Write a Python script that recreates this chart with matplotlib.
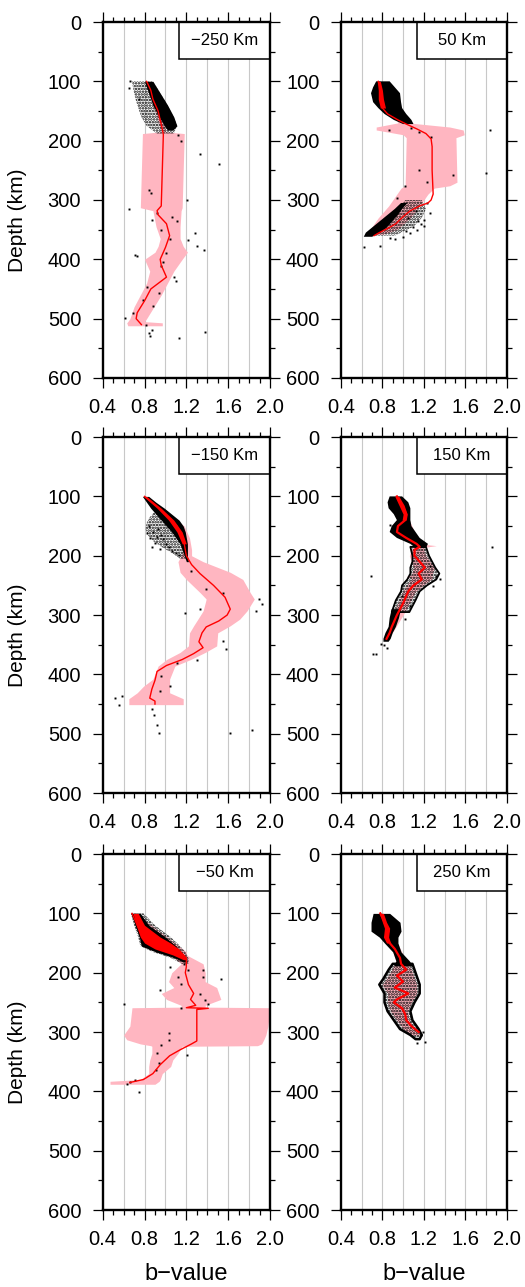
import numpy as np
import matplotlib
matplotlib.use("Agg")
import matplotlib.pyplot as plt
from matplotlib.patches import Rectangle

plt.rcParams['font.family'] = ['Liberation Sans', 'DejaVu Sans']
plt.rcParams['hatch.linewidth'] = 1.2

nan = np.nan

# ---- panel 1 : -250 Km ----
p1_depth = [100, 115, 130, 150, 165, 180, 190, 250, 310, 318, 325, 340, 360, 380, 400, 410, 430, 450, 470, 490, 500, 510]
p1_b = [0.82, 0.86, 0.88, 0.93, 0.95, 0.97, 0.98, 0.97, 0.96, 0.92, 0.93, 1.01, 1.04, 1.00, 0.95, 0.96, 1.01, 0.86, 0.80, 0.73, 0.72, 0.77]
p1_band_depth = [100, 150, 185, 188, 250, 313, 318, 345, 365, 378, 388, 400, 420, 440, 460, 480, 500, 505, 507, 512]
p1_band_lo = [0.80, 0.90, 0.96, 0.78, 0.77, 0.76, 0.88, 0.91, 0.95, 0.93, 0.90, 0.80, 0.85, 0.82, 0.76, 0.70, 0.66, 0.64, 0.63, 0.64]
p1_band_hi = [0.86, 0.97, 1.00, 1.18, 1.17, 1.16, 1.15, 1.14, 1.14, 1.17, 1.21, 1.16, 1.08, 1.02, 0.96, 0.89, 0.82, 0.80, 0.97, 0.97]
p1_env_depth = [100, 120, 140, 160, 175, 182]
p1_env_lo = [0.80, 0.84, 0.88, 0.94, 0.99, 1.02]
p1_env_hi = [0.88, 0.95, 1.02, 1.08, 1.11, 1.07]
p1_sparse_depth = [100, 120, 140, 160, 175, 188]
p1_sparse_lo = [0.68, 0.70, 0.73, 0.77, 0.82, 0.92]
p1_sparse_hi = [0.88, 0.95, 1.02, 1.08, 1.11, 1.08]
p1_pts_b = [1.33, 1.51, 1.21, 0.65, 0.84, 0.86, 1.28, 1.22, 1.30, 1.37, 0.73, 0.71, 1.11, 0.87, 1.08, 1.10, 0.94,
            0.88, 0.61, 0.85, 1.13, 1.38, 0.69, 0.81, 0.87, 0.84, 0.96, 1.01, 0.96, 1.06, 0.92, 0.79, 0.82,
            0.66, 0.65, 0.75, 1.12, 1.15, 0.98, 1.04]
p1_pts_depth = [222, 240, 300, 315, 283, 288, 356, 367, 378, 384, 395, 392, 336, 333, 429, 437, 456,
                479, 499, 530, 532, 523, 491, 510, 519, 524, 412, 390, 350, 328, 322, 468, 446,
                100, 112, 130, 190, 200, 405, 365]

# ---- panel 2 : 50 Km ----
p2_depth = [100, 110, 120, 130, 145, 155, 165, 172, 180, 188, 197, 210, 250, 290, 300, 305, 310, 318, 325, 333, 340, 347, 355, 360]
p2_b = [0.76, 0.78, 0.79, 0.78, 0.80, 0.85, 0.95, 1.03, 1.13, 1.22, 1.27, 1.28, 1.28, 1.29, 1.27, 1.24, 1.16, 1.07, 1.02, 0.97, 0.93, 0.86, 0.77, 0.72]
p2_band_depth = [100, 170, 177, 182, 190, 195, 270, 276, 280, 290, 310, 330, 350, 358]
p2_band_lo = [0.75, 0.95, 0.74, 0.74, 1.00, 1.03, 1.02, 1.02, 0.98, 0.94, 0.86, 0.76, 0.68, 0.66]
p2_band_hi = [0.78, 1.05, 1.45, 1.58, 1.59, 1.51, 1.52, 1.45, 1.30, 1.24, 1.16, 1.07, 0.94, 0.80]
p2_env_depth = [100, 110, 120, 135, 145, 155, 165, 172, nan, 305, 315, 325, 335, 345, 355, 362]
p2_env_lo = [0.74, 0.71, 0.69, 0.71, 0.76, 0.82, 0.91, 1.00, nan, 0.98, 0.92, 0.85, 0.78, 0.71, 0.64, 0.62]
p2_env_hi = [0.87, 0.92, 0.97, 0.98, 0.99, 1.03, 1.08, 1.10, nan, 1.04, 0.99, 0.95, 0.90, 0.85, 0.78, 0.70]
p2_sparse_depth = [300, 315, 330, 345, 360]
p2_sparse_lo = [1.02, 0.96, 0.88, 0.80, 0.70]
p2_sparse_hi = [1.18, 1.22, 1.18, 1.10, 0.92]
p2_core_depth = [100, 115, 130, 145]
p2_core_lo = [0.75, 0.76, 0.76, 0.78]
p2_core_hi = [0.78, 0.80, 0.81, 0.83]
p2_pts_b = [1.84, 1.80, 1.15, 1.48, 0.62, 0.78, 0.87, 1.23, 1.26, 1.20, 1.13, 1.07, 1.23, 1.02, 0.94, 1.27, 1.15, 1.08, 0.86,
            1.10, 1.17, 1.00, 0.92, 1.05, 1.12, 1.20, 1.14, 1.03]
p2_pts_depth = [182, 254, 250, 258, 380, 378, 364, 305, 322, 333, 350, 356, 269, 277, 297, 193, 185, 179, 182,
                345, 340, 362, 366, 330, 318, 343, 335, 352]

# ---- panel 3 : -150 Km ----
p3_depth = [100, 110, 120, 130, 150, 170, 190, 200, 215, 230, 250, 270, 290, 300, 310, 320, 330, 345, 355, 365, 375, 385, 395, 410, 425, 440, 445, 450]
p3_b = [0.80, 0.87, 0.94, 1.00, 1.11, 1.17, 1.19, 1.20, 1.25, 1.33, 1.46, 1.57, 1.62, 1.59, 1.51, 1.39, 1.35, 1.32, 1.36, 1.27, 1.16, 1.01, 0.92, 0.90, 0.87, 0.85, 0.90, 0.90]
p3_band_depth = [100, 150, 170, 190, 200, 210, 228, 240, 262, 273, 293, 307, 318, 330, 352, 363, 375, 386, 408, 420, 431, 441, 451]
p3_band_lo = [0.79, 1.05, 1.12, 1.17, 1.15, 1.12, 1.14, 1.20, 1.33, 1.39, 1.36, 1.31, 1.27, 1.23, 1.22, 1.14, 1.01, 0.93, 0.88, 0.79, 0.73, 0.65, 0.65]
p3_band_hi = [0.82, 1.18, 1.23, 1.25, 1.25, 1.36, 1.62, 1.74, 1.81, 1.85, 1.78, 1.71, 1.62, 1.50, 1.49, 1.38, 1.24, 1.09, 1.04, 1.04, 1.04, 1.17, 1.17]
p3_env_depth = [100, 110, 120, 130, 140, 150, 160, 170, 180, 190, 200, 210]
p3_env_lo = [0.78, 0.82, 0.86, 0.91, 0.96, 1.01, 1.06, 1.10, 1.14, 1.16, 1.18, 1.20]
p3_env_hi = [0.84, 0.91, 0.99, 1.06, 1.13, 1.17, 1.19, 1.20, 1.21, 1.21, 1.21, 1.22]
p3_sparse_depth = [125, 135, 145, 155, 165, 175, 185, 195, 205]
p3_sparse_lo = [0.90, 0.85, 0.82, 0.81, 0.83, 0.88, 0.96, 1.06, 1.14]
p3_sparse_hi = [1.02, 1.08, 1.13, 1.17, 1.19, 1.20, 1.21, 1.21, 1.21]
p3_core_depth = [100, 120, 140, 160, 180]
p3_core_lo = [0.79, 0.92, 1.03, 1.11, 1.16]
p3_core_hi = [0.82, 0.96, 1.08, 1.16, 1.20]
p3_pts_b = [0.82, 0.87, 0.95, 1.06, 0.92, 1.01, 0.52, 0.58, 0.56, 0.87, 0.89, 0.92, 0.94, 1.62, 1.83, 1.92, 1.89, 1.87,
            1.19, 1.33, 1.58, 1.55, 1.30, 1.11, 0.96, 0.95, 1.04, 1.24, 1.39, 1.55,
            0.85, 0.90, 0.98, 1.03, 0.88, 0.96, 1.10, 1.13, 0.84, 0.93]
p3_pts_depth = [161, 186, 189, 192, 169, 180, 439, 437, 451, 459, 468, 485, 499, 499, 493, 282, 273, 293,
                296, 290, 358, 344, 375, 380, 403, 428, 420, 225, 256, 262,
                170, 178, 172, 186, 160, 165, 195, 198, 150, 155]

# ---- panel 4 : 150 Km ----
p4_depth = [100, 115, 130, 140, 150, 160, 170, 180, 185, 190, 200, 210, 220, 230, 240, 250, 260, 280, 300, 320, 330, 340]
p4_b = [0.94, 0.99, 1.03, 1.02, 0.95, 0.94, 1.03, 1.13, 1.16, 1.11, 1.11, 1.16, 1.21, 1.15, 1.18, 1.10, 1.05, 1.00, 0.94, 0.89, 0.87, 0.84]
p4_band_depth = [100, 180, 183, 186, 190, 200, 220, 232, 235, 238, 260, 300, 340]
p4_band_lo = [0.92, 1.10, 1.10, 1.10, 1.08, 1.06, 1.10, 1.08, 1.03, 1.08, 1.00, 0.90, 0.81]
p4_band_hi = [0.96, 1.16, 1.32, 1.20, 1.20, 1.22, 1.30, 1.28, 1.28, 1.28, 1.12, 1.00, 0.86]
p4_env_depth = [100, 110, 120, 130, 140, 150, 160, 170, 180, 187, nan, 290, 305, 320, 330, 340, 345]
p4_env_lo = [0.87, 0.85, 0.86, 0.91, 0.94, 0.89, 0.87, 0.94, 1.07, 1.12, nan, 0.89, 0.87, 0.86, 0.83, 0.81, 0.81]
p4_env_hi = [0.99, 1.05, 1.07, 1.07, 1.07, 1.08, 1.12, 1.16, 1.24, 1.22, nan, 0.98, 0.96, 0.93, 0.90, 0.88, 0.86]
p4_sparse_depth = [185, 200, 210, 220, 230, 240, 250, 260, 275, 295]
p4_sparse_lo = [1.07, 1.09, 1.09, 1.07, 1.07, 1.04, 0.99, 0.98, 0.93, 0.89]
p4_sparse_hi = [1.22, 1.25, 1.28, 1.31, 1.35, 1.32, 1.23, 1.16, 1.12, 1.06]
p4_core_depth = [100, 115, 130, 140]
p4_core_lo = [0.92, 0.96, 1.00, 0.99]
p4_core_hi = [0.96, 1.01, 1.04, 1.03]
p4_pts_b = [1.86, 0.69, 0.71, 0.74, 0.79, 0.87, 0.91, 1.26, 1.32, 1.36, 1.29, 1.02, 0.94, 1.07, 0.99, 0.84, 0.82]
p4_pts_depth = [186, 235, 365, 365, 349, 149, 155, 217, 234, 240, 251, 307, 296, 285, 268, 355, 350]

# ---- panel 5 : -50 Km ----
p5_depth = [100, 120, 140, 155, 165, 175, 190, 200, 220, 235, 245, 255, 259, 260, 262, 300, 315, 320, 330, 340, 355, 370, 380, 385]
p5_b = [0.68, 0.73, 0.79, 0.98, 1.14, 1.20, 1.20, 1.19, 1.22, 1.27, 1.24, 1.29, 1.20, 1.41, 1.30, 1.30, 1.30, 1.25, 1.14, 1.04, 0.95, 0.88, 0.79, 0.66]
p5_band_depth = [100, 165, 170, 185, 200, 215, 225, 235, 245, 255, 258, 259, 290, 305, 313, 320, 323, 324, 336, 347, 358, 370, 380, 383, 388]
p5_band_lo = [0.68, 1.05, 1.05, 1.15, 1.06, 1.03, 1.08, 0.96, 1.01, 1.15, 1.15, 0.68, 0.66, 0.60, 0.63, 0.76, 0.86, 0.87, 0.87, 0.85, 0.84, 0.84, 0.76, 0.47, 0.47]
p5_band_hi = [0.72, 1.20, 1.20, 1.36, 1.38, 1.38, 1.49, 1.51, 1.53, 1.38, 1.38, 2.00, 1.98, 1.96, 1.94, 1.92, 1.88, 1.16, 1.12, 1.07, 1.05, 0.97, 0.95, 0.94, 0.90]
p5_env_depth = [100, 120, 140, 155, 165, 175, 182]
p5_env_lo = [0.67, 0.71, 0.75, 0.77, 0.91, 1.09, 1.17]
p5_env_hi = [0.76, 0.84, 1.00, 1.10, 1.15, 1.20, 1.21]
p5_sparse_depth = [100, 120, 140, 155, 165, 175, 185]
p5_sparse_lo = [0.67, 0.70, 0.74, 0.76, 0.88, 1.05, 1.16]
p5_sparse_hi = [0.79, 0.90, 1.05, 1.14, 1.19, 1.22, 1.22]
p5_core_depth = [100, 120, 140, 150, 160, 170, 178]
p5_core_lo = [0.69, 0.72, 0.76, 0.80, 0.90, 1.07, 1.17]
p5_core_hi = [0.74, 0.80, 0.95, 1.05, 1.13, 1.18, 1.20]
p5_pts_b = [1.36, 1.53, 1.36, 0.95, 1.04, 1.12, 1.15, 1.33, 1.38, 1.41, 0.60, 1.15, 1.03, 0.96, 1.03, 1.21, 0.92, 0.94,
            0.91, 0.63, 0.71, 0.75, 0.66, 1.18, 1.22]
p5_pts_depth = [196, 211, 207, 229, 190, 207, 219, 236, 246, 252, 252, 260, 301, 322, 313, 338, 336, 353,
                364, 388, 381, 401, 385, 185, 195]

# ---- panel 6 : 250 Km ----
p6_depth = [100, 110, 120, 130, 140, 150, 160, 175, 185, 195, 205, 215, 225, 235, 245, 250, 260, 270, 280, 290, 300]
p6_b = [0.78, 0.81, 0.83, 0.86, 0.83, 0.87, 0.92, 0.97, 0.98, 1.03, 0.94, 1.00, 0.92, 1.05, 0.94, 0.91, 0.99, 1.02, 1.03, 1.08, 1.15]
p6_band_depth = [100, 180, 195, 210, 220, 235, 250, 265, 280, 295, 305]
p6_band_lo = [0.77, 0.93, 0.89, 0.84, 0.80, 0.85, 0.85, 0.88, 0.94, 1.00, 1.09]
p6_band_hi = [0.80, 1.03, 1.08, 1.11, 1.13, 1.13, 1.08, 1.04, 1.06, 1.12, 1.16]
p6_env_depth = [100, 115, 130, 140, 150, 165, 180, 188]
p6_env_lo = [0.71, 0.69, 0.69, 0.77, 0.82, 0.90, 0.93, 0.91]
p6_env_hi = [0.87, 0.97, 0.98, 0.95, 0.95, 0.98, 1.06, 1.09]
p6_sparse_depth = [185, 195, 210, 220, 235, 250, 265, 280, 295, 305, 312]
p6_sparse_lo = [0.90, 0.86, 0.81, 0.77, 0.82, 0.82, 0.85, 0.91, 0.97, 1.07, 1.12]
p6_sparse_hi = [1.09, 1.11, 1.14, 1.16, 1.16, 1.11, 1.07, 1.09, 1.15, 1.18, 1.16]
p6_core_depth = [100, 115, 125, 140, 150]
p6_core_lo = [0.77, 0.80, 0.82, 0.81, 0.84]
p6_core_hi = [0.81, 0.84, 0.87, 0.86, 0.88]
p6_pts_b = [1.21, 1.13, 1.17, 1.19]
p6_pts_depth = [316, 319, 305, 300]

labels = ['\u2212250 Km', '50 Km', '\u2212150 Km', '150 Km', '\u221250 Km', '250 Km']
grid_x = [0.6, 0.8, 1.0, 1.2, 1.4, 1.6, 1.8]

panels = [
    dict(line=(p1_depth, p1_b), band=(p1_band_depth, p1_band_lo, p1_band_hi),
         env=(p1_env_depth, p1_env_lo, p1_env_hi), sparse=(p1_sparse_depth, p1_sparse_lo, p1_sparse_hi),
         pts=(p1_pts_b, p1_pts_depth)),
    dict(line=(p2_depth, p2_b), band=(p2_band_depth, p2_band_lo, p2_band_hi),
         env=(p2_env_depth, p2_env_lo, p2_env_hi), sparse=(p2_sparse_depth, p2_sparse_lo, p2_sparse_hi),
         core=(p2_core_depth, p2_core_lo, p2_core_hi), pts=(p2_pts_b, p2_pts_depth)),
    dict(line=(p3_depth, p3_b), band=(p3_band_depth, p3_band_lo, p3_band_hi),
         env=(p3_env_depth, p3_env_lo, p3_env_hi), sparse=(p3_sparse_depth, p3_sparse_lo, p3_sparse_hi),
         core=(p3_core_depth, p3_core_lo, p3_core_hi), pts=(p3_pts_b, p3_pts_depth)),
    dict(line=(p4_depth, p4_b), band=(p4_band_depth, p4_band_lo, p4_band_hi),
         env=(p4_env_depth, p4_env_lo, p4_env_hi), sparse=(p4_sparse_depth, p4_sparse_lo, p4_sparse_hi),
         core=(p4_core_depth, p4_core_lo, p4_core_hi), pts=(p4_pts_b, p4_pts_depth), lw=1.6, edge=1.3),
    dict(line=(p5_depth, p5_b), band=(p5_band_depth, p5_band_lo, p5_band_hi),
         env=(p5_env_depth, p5_env_lo, p5_env_hi), sparse=(p5_sparse_depth, p5_sparse_lo, p5_sparse_hi),
         core=(p5_core_depth, p5_core_lo, p5_core_hi), pts=(p5_pts_b, p5_pts_depth)),
    dict(line=(p6_depth, p6_b), band=(p6_band_depth, p6_band_lo, p6_band_hi),
         env=(p6_env_depth, p6_env_lo, p6_env_hi), sparse=(p6_sparse_depth, p6_sparse_lo, p6_sparse_hi),
         core=(p6_core_depth, p6_core_lo, p6_core_hi), pts=(p6_pts_b, p6_pts_depth), lw=1.6, edge=1.8),
]

fig = plt.figure(figsize=(5.25, 12.87), dpi=100)

col_left = [0.1956, 0.6495]
col_width = [0.3187, 0.3156]
row_bottom = [0.7063, 0.3838, 0.0598]
h = 0.2766

for i, p in enumerate(panels):
    r, c = divmod(i, 2)
    ax = fig.add_axes([col_left[c], row_bottom[r], col_width[c], h])

    for gx in grid_x:
        ax.axvline(gx, color='#c8c8c8', lw=0.8, zorder=0)

    d, lo, hi = p['band']
    ax.fill_betweenx(d, lo, hi, color='#ffb6c1', lw=0, zorder=1)

    # scattered bootstrap dots, drawn as a dotted hatch where they are loose
    d, lo, hi = p['sparse']
    ax.fill_betweenx(d, lo, hi, facecolor='none', edgecolor='black', hatch='......',
                     lw=p.get('edge', 0), zorder=2)

    d, lo, hi = p['env']
    ax.fill_betweenx(d, lo, hi, color='black', lw=0, zorder=2)

    ax.plot(p['pts'][0], p['pts'][1], 's', color='black', ms=1.4, mew=0, zorder=3)

    if 'core' in p:
        d, lo, hi = p['core']
        ax.fill_betweenx(d, lo, hi, color='red', lw=0, zorder=4)

    ax.plot(p['line'][1], p['line'][0], color='red', lw=p.get('lw', 1.0), zorder=5)

    ax.set_xlim(0.4, 2.0)
    ax.set_ylim(600, 0)
    ax.set_xticks([0.4, 0.8, 1.2, 1.6, 2.0])
    ax.set_xticklabels(['0.4', '0.8', '1.2', '1.6', '2.0'])
    ax.set_xticks(np.arange(0.4, 2.01, 0.1), minor=True)
    ax.set_yticks([0, 100, 200, 300, 400, 500, 600])
    ax.set_yticks(np.arange(0, 601, 50), minor=True)
    ax.tick_params(which='both', direction='out', top=True, right=True, width=0.9, labelsize=14.5)
    ax.tick_params(which='major', length=7.5)
    ax.tick_params(which='minor', length=3.6)
    ax.tick_params(axis='x', which='major', pad=7)
    ax.tick_params(axis='y', which='major', pad=8)
    for s in ax.spines.values():
        s.set_linewidth(1.7)
        s.set_zorder(10)

    ax.add_patch(Rectangle((0.458, 0.896), 0.542, 0.104, transform=ax.transAxes,
                           facecolor='white', edgecolor='black', lw=1.1, zorder=8, clip_on=False))
    ax.text(0.729, 0.948, labels[i], transform=ax.transAxes, ha='center', va='center',
            fontsize=12, zorder=9)

    if c == 0:
        ax.set_ylabel('Depth (km)', fontsize=15)
        ax.yaxis.set_label_coords(-0.45, 0.444)
    if r == 2:
        ax.set_xlabel('b\u2212value', fontsize=17)
        ax.xaxis.set_label_coords(0.5, -0.15)

fig.savefig('out.png', dpi=100)
